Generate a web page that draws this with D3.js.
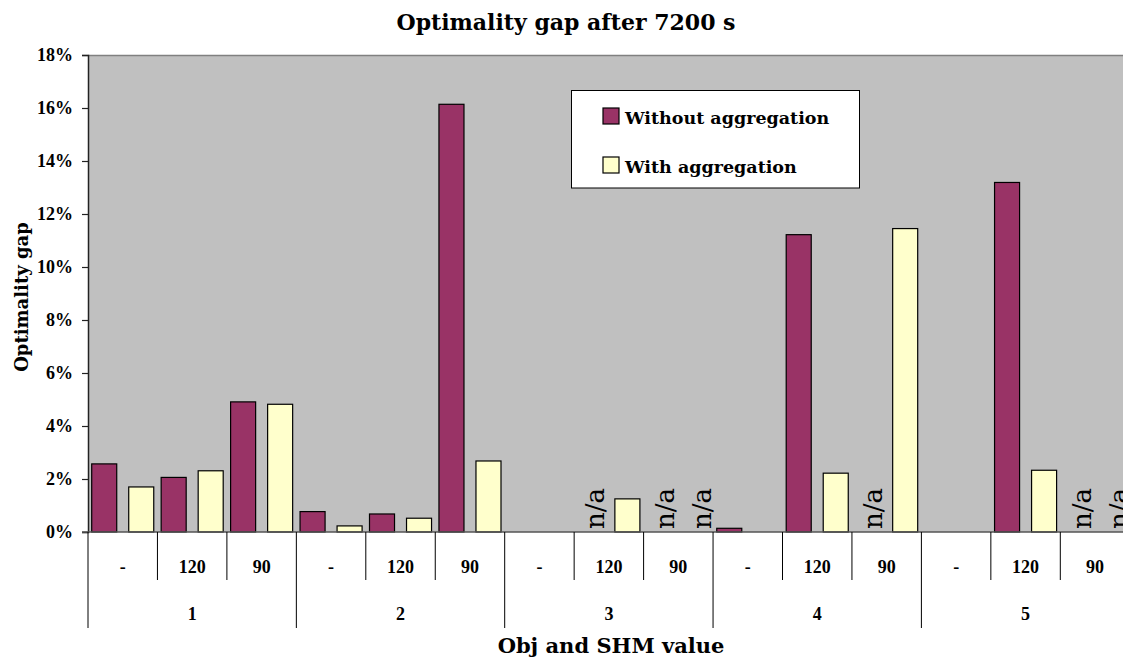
<!DOCTYPE html>
<html>
<head>
<meta charset="utf-8">
<script src="https://cdn.jsdelivr.net/npm/d3@7"></script>
<style>
  html, body { margin: 0; padding: 0; background: #fff; }
  svg { display: block; }
</style>
</head>
<body>
<svg id="chart" width="1123" height="660"></svg>
<script>
// ---- data ----
const groups = ["1", "2", "3", "4", "5"];
const shmValues = ["-", "120", "90"];
const seriesNames = ["Without aggregation", "With aggregation"];
// values in %, "n/a" = not available (labelled), null = no bar
const withoutAgg = [2.57, 2.06, 4.91, 0.77, 0.68, 16.14, null, "n/a", "n/a", 0.14, 11.22, "n/a", null, 13.19, "n/a"];
const withAgg    = [1.70, 2.31, 4.82, 0.23, 0.52, 2.68, null, 1.25, "n/a", null, 2.22, 11.45, null, 2.33, "n/a"];
const yTicks = [0, 2, 4, 6, 8, 10, 12, 14, 16, 18];
const colors = ["#993366", "#FFFFCC"];

(function () {
// ---- layout ----
const svg = d3.select("#chart");
const pLeft = 88, pTop = 55, pBottom = 532;
const step = 69.45;
const cats = [];
groups.forEach(g => shmValues.forEach(s => cats.push(g + "|" + s)));
const pRight = pLeft + step * cats.length;

const x0 = d3.scaleBand().domain(cats).range([pLeft, pRight]);
const x1 = d3.scaleBand().domain(seriesNames).range([0, x0.bandwidth()])
  .paddingInner(0.324).paddingOuter(0.1);
const y = d3.scaleLinear().domain([0, 18]).range([pBottom, pTop]);

const serif = "'DejaVu Serif', serif";
const serifT = "'Liberation Serif', 'Times New Roman', serif";

// plot background
svg.append("rect").attr("x", pLeft).attr("y", pTop)
  .attr("width", pRight - pLeft).attr("height", pBottom - pTop)
  .attr("fill", "#C0C0C0");
svg.append("line").attr("x1", pLeft).attr("x2", pRight).attr("y1", pTop + 0.5).attr("y2", pTop + 0.5)
  .attr("stroke", "#808080").attr("stroke-width", 1.5);

// title
svg.append("text").attr("x", 566).attr("y", 30).attr("text-anchor", "middle")
  .attr("font-family", serif).attr("font-weight", "bold").attr("font-size", 22)
  .attr("fill", "#000").text("Optimality gap after 7200 s");

// bars
const data = cats.map((c, i) => ({ cat: c, vals: [withoutAgg[i], withAgg[i]] }));
const gCat = svg.append("g").selectAll("g").data(data).join("g")
  .attr("transform", d => `translate(${x0(d.cat)},0)`);

gCat.selectAll("rect")
  .data(d => d.vals.map((v, j) => ({ v, j })).filter(e => typeof e.v === "number"))
  .join("rect")
  .attr("x", e => x1(seriesNames[e.j]))
  .attr("y", e => y(e.v))
  .attr("width", x1.bandwidth())
  .attr("height", e => y(0) - y(e.v))
  .attr("fill", e => colors[e.j])
  .attr("stroke", "#000").attr("stroke-width", 1.2);

gCat.selectAll("text.na")
  .data(d => d.vals.map((v, j) => ({ v, j })).filter(e => e.v === "n/a"))
  .join("text").attr("class", "na")
  .attr("transform", e => `translate(${x1(seriesNames[e.j]) + x1.bandwidth() / 2 + 14},${y(0) - 3}) rotate(-90)`)
  .attr("font-family", serif).attr("font-size", 26).attr("fill", "#000")
  .text("n/a");

// y axis
const yAxis = d3.axisLeft(y).tickValues(yTicks).tickSize(6).tickPadding(9)
  .tickFormat(d => d + "%");
const gy = svg.append("g").attr("transform", `translate(${pLeft},0)`).call(yAxis);
gy.select(".domain").attr("stroke", "#222").attr("stroke-width", 1.5);
gy.selectAll(".tick line").attr("stroke", "#222").attr("stroke-width", 1.2);
gy.selectAll(".tick text").attr("font-family", serifT).attr("font-weight", "bold")
  .attr("font-size", 18).attr("fill", "#000");

// baseline
svg.append("line").attr("x1", pLeft - 6).attr("x2", pRight).attr("y1", pBottom).attr("y2", pBottom)
  .attr("stroke", "#555").attr("stroke-width", 1.5);

// category axis (two levels)
const xAxis = d3.axisBottom(x0).tickSize(0).tickPadding(0).tickFormat(d => d.split("|")[1]);
const gx = svg.append("g").attr("transform", `translate(0,${pBottom})`).call(xAxis);
gx.select(".domain").remove();
gx.selectAll(".tick text").attr("dy", null).attr("y", 41)
  .attr("font-family", serifT).attr("font-weight", "bold").attr("font-size", 18).attr("fill", "#000");

// separators
cats.forEach((c, i) => {
  const xx = x0(c);
  const isGroup = i % shmValues.length === 0;
  svg.append("line").attr("x1", xx).attr("x2", xx).attr("y1", pBottom)
    .attr("y2", isGroup ? 628 : 580).attr("stroke", "#000").attr("stroke-width", 1);
});

// group labels
const xg = d3.scaleBand().domain(groups).range([pLeft, pRight]);
svg.append("g").selectAll("text").data(groups).join("text")
  .attr("x", d => xg(d) + xg.bandwidth() / 2).attr("y", 620).attr("text-anchor", "middle")
  .attr("font-family", serifT).attr("font-weight", "bold").attr("font-size", 18).attr("fill", "#000")
  .text(d => d);

// axis titles
svg.append("text").attr("x", 611).attr("y", 653).attr("text-anchor", "middle")
  .attr("font-family", serif).attr("font-weight", "bold").attr("font-size", 21).attr("fill", "#000")
  .text("Obj and SHM value");
svg.append("text").attr("transform", "translate(28,297) rotate(-90)").attr("text-anchor", "middle")
  .attr("font-family", serif).attr("font-weight", "bold").attr("font-size", 18).attr("fill", "#000")
  .text("Optimality gap");

// legend
const lg = svg.append("g");
lg.append("rect").attr("x", 571.5).attr("y", 90.5).attr("width", 288).attr("height", 97.5)
  .attr("fill", "#fff").attr("stroke", "#000").attr("stroke-width", 1);
seriesNames.forEach((n, i) => {
  const yy = 108 + i * 49;
  lg.append("rect").attr("x", 603).attr("y", yy).attr("width", 16).attr("height", 16)
    .attr("fill", colors[i]).attr("stroke", "#000").attr("stroke-width", 1.2);
  lg.append("text").attr("x", 625).attr("y", yy + 16).attr("font-family", serif)
    .attr("font-weight", "bold").attr("font-size", 17.5).attr("fill", "#000").text(n);
});
})();
</script>
</body>
</html>
